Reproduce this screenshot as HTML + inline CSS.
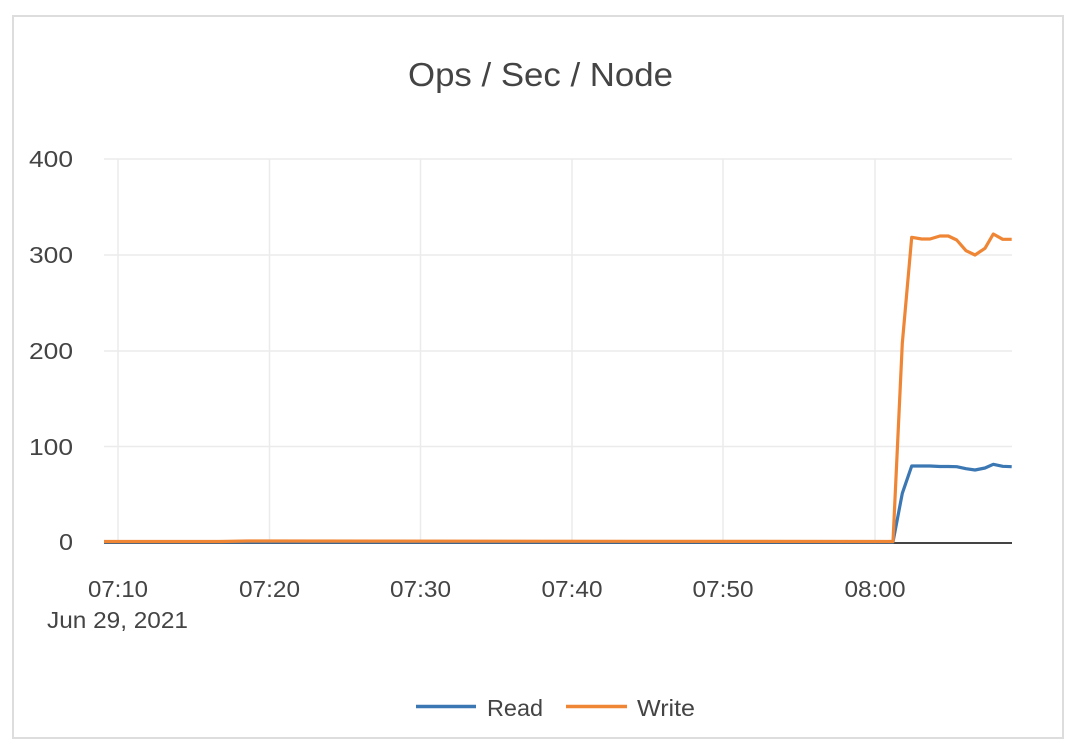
<!DOCTYPE html>
<html>
<head>
<meta charset="utf-8">
<style>
  html,body{margin:0;padding:0;background:#fff;}
  body{width:1070px;height:748px;overflow:hidden;}
  svg{display:block;}
  text{font-family:"Liberation Sans",Arial,sans-serif;fill:#444;}
</style>
</head>
<body>
<svg width="1070" height="748" viewBox="0 0 1070 748" xmlns="http://www.w3.org/2000/svg">
  <rect x="0" y="0" width="1070" height="748" fill="#fff"/>
  <rect x="13" y="16" width="1050" height="722" fill="#fff" stroke="#dddddd" stroke-width="2"/>

  <!-- title -->
  <text x="540.5" y="86" font-size="33" text-anchor="middle" textLength="265" lengthAdjust="spacingAndGlyphs">Ops / Sec / Node</text>

  <!-- horizontal gridlines -->
  <g stroke="#ebebeb" stroke-width="1.5">
    <line x1="104" y1="159" x2="1012" y2="159"/>
    <line x1="104" y1="255" x2="1012" y2="255"/>
    <line x1="104" y1="351" x2="1012" y2="351"/>
    <line x1="104" y1="446.5" x2="1012" y2="446.5"/>
  </g>
  <!-- vertical gridlines -->
  <g stroke="#ebebeb" stroke-width="1.5">
    <line x1="118" y1="159" x2="118" y2="542"/>
    <line x1="269.5" y1="159" x2="269.5" y2="542"/>
    <line x1="420.5" y1="159" x2="420.5" y2="542"/>
    <line x1="572" y1="159" x2="572" y2="542"/>
    <line x1="723" y1="159" x2="723" y2="542"/>
    <line x1="875" y1="159" x2="875" y2="542"/>
  </g>

  <!-- y labels -->
  <g font-size="23" text-anchor="end">
    <text x="73" y="167" textLength="44" lengthAdjust="spacingAndGlyphs">400</text>
    <text x="73" y="263" textLength="44" lengthAdjust="spacingAndGlyphs">300</text>
    <text x="73" y="359" textLength="44" lengthAdjust="spacingAndGlyphs">200</text>
    <text x="73" y="455" textLength="44" lengthAdjust="spacingAndGlyphs">100</text>
    <text x="73" y="550" textLength="14" lengthAdjust="spacingAndGlyphs">0</text>
  </g>

  <!-- x labels -->
  <g font-size="23" text-anchor="middle">
    <text x="118" y="597" textLength="60" lengthAdjust="spacingAndGlyphs">07:10</text>
    <text x="117.5" y="628" textLength="141" lengthAdjust="spacingAndGlyphs">Jun 29, 2021</text>
    <text x="269.5" y="597" textLength="61" lengthAdjust="spacingAndGlyphs">07:20</text>
    <text x="420.5" y="597" textLength="61" lengthAdjust="spacingAndGlyphs">07:30</text>
    <text x="572" y="597" textLength="61" lengthAdjust="spacingAndGlyphs">07:40</text>
    <text x="723" y="597" textLength="61" lengthAdjust="spacingAndGlyphs">07:50</text>
    <text x="875" y="597" textLength="61" lengthAdjust="spacingAndGlyphs">08:00</text>
  </g>

  <!-- zero axis line -->
  <line x1="104" y1="543" x2="1012" y2="543" stroke="#444" stroke-width="2"/>

  <!-- Read series -->
  <polyline fill="none" stroke="#3b77b3" stroke-width="3.2" stroke-linejoin="round"
    points="104,542 893,542 902.3,493.3 911.7,466 921.7,466 930,466 940,466.5 948.3,466.5 956.7,466.7 966,468.7 975,470 985,468 993.3,464.3 1002.7,466.3 1011.7,466.7"/>

  <!-- Write series -->
  <polyline fill="none" stroke="#ef8636" stroke-width="3.2" stroke-linejoin="round"
    points="104,541.5 220,541.5 248,541 893,541.5 902.3,343.3 911.7,237.3 921.7,239 930,239 940,236 948.3,236 956.7,240 966,250.7 975,255 985,248.3 993.3,234 1002.7,239.3 1011.7,239.3"/>

  <!-- legend -->
  <line x1="416" y1="706.5" x2="476" y2="706.5" stroke="#3b77b3" stroke-width="3.5"/>
  <text x="487" y="716" font-size="23" textLength="56" lengthAdjust="spacingAndGlyphs">Read</text>
  <line x1="566" y1="706.5" x2="627" y2="706.5" stroke="#ef8636" stroke-width="3.5"/>
  <text x="637" y="716" font-size="23" textLength="58" lengthAdjust="spacingAndGlyphs">Write</text>
</svg>
</body>
</html>
